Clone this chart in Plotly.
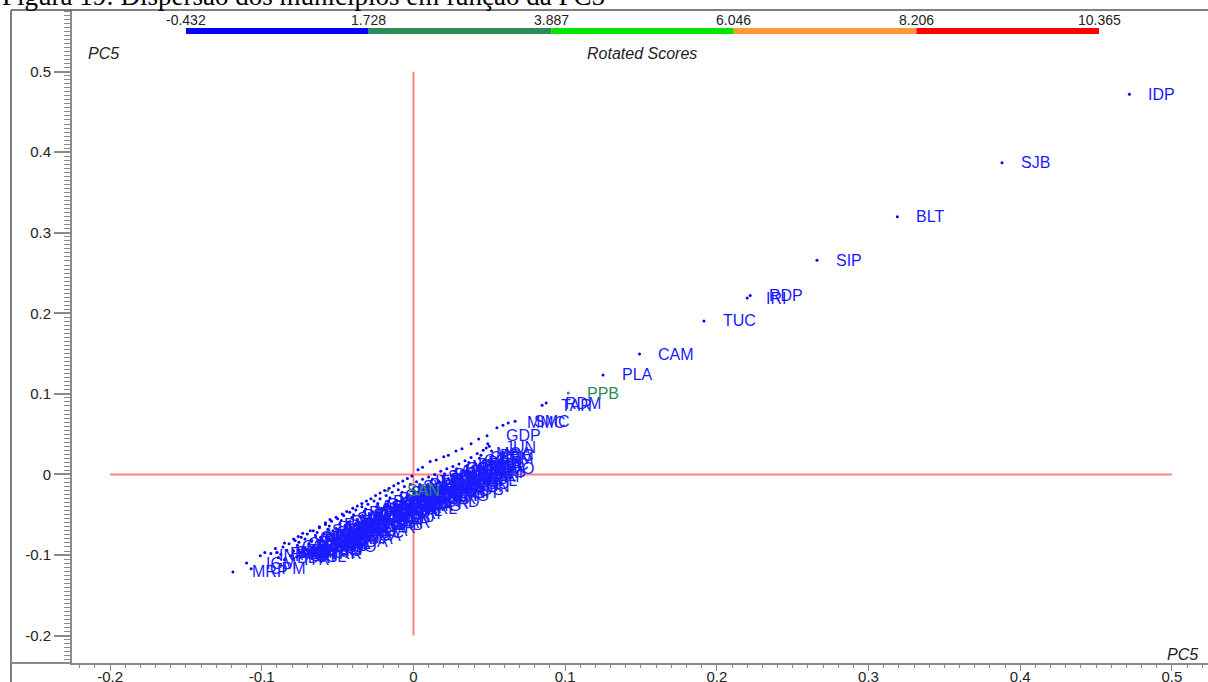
import plotly.graph_objects as go

# ---------------------------------------------------------------- data
# Labelled municipalities outside the main cloud (PC5 vs PC5 scores)
named_codes = ["IDP", "SJB", "BLT", "SIP", "IRI", "RDP", "TUC", "CAM", "PLA",
               "RDM", "TAR", "SMC", "MMC", "GDP"]
named_x = [0.472, 0.388, 0.319, 0.266, 0.220, 0.222, 0.1915, 0.149, 0.125,
           0.0875, 0.0848, 0.067, 0.0625, 0.0485]
named_y = [0.472, 0.387, 0.320, 0.266, 0.219, 0.222, 0.1905, 0.1495, 0.1235,
           0.0887, 0.086, 0.066, 0.064, 0.048]

# Labelled municipalities in the higher score class (green)
green_codes = ["PPB", "SAN"]
green_x = [0.102, -0.017]
green_y = [0.101, -0.020]

# Highest-score municipalities inside the cloud (red)
red_x = [0.000, 0.003, 0.011, 0.039]
red_y = [-0.019, -0.022, -0.025, 0.002]

# Labelled municipalities at the lower tail of the cloud
tail_codes = ["MRP", "CPM", "IGM", "INP", "PAD", "SJD"]
tail_x = [-0.119, -0.107, -0.110, -0.101, -0.094, -0.090]
tail_y = [-0.121, -0.117, -0.110, -0.101, -0.098, -0.097]

# Points along the upper edge of the cloud
edge_x = [-0.098, -0.091, -0.085, -0.079, -0.076, -0.073, -0.068, -0.062,
          -0.058, -0.055, -0.051, -0.047, -0.044, -0.040, -0.037, -0.034,
          -0.031, -0.028, -0.025, -0.022, -0.019, -0.016, -0.013, -0.010,
          -0.007, -0.004, -0.001, 0.003, 0.006, 0.011, 0.015, 0.020, 0.023,
          0.028, 0.032, 0.038, 0.043, 0.055, 0.059]
edge_y = [-0.097, -0.092, -0.085, -0.080, -0.077, -0.073, -0.070, -0.065,
          -0.060, -0.056, -0.053, -0.049, -0.046, -0.042, -0.039, -0.036,
          -0.033, -0.030, -0.026, -0.023, -0.020, -0.017, -0.014, -0.011,
          -0.008, -0.005, -0.002, 0.006, 0.009, 0.016, 0.018, 0.022, 0.024,
          0.029, 0.032, 0.038, 0.044, 0.058, 0.061]

# Dense cloud of municipalities ("" = no label drawn)
band_codes = ["VRD", "BDR",
              "CSB", "MGR", "ITR",
              "CVD", "ESP", "SFI",
              "VRC", "PTR", "APR", "SSL",
              "CRJ", "ITA", "CGM", "MCR",
              "MAC", "PDA", "ARR", "QSM", "TRR",
              "SMD", "CDM", "PBL", "BMS", "RIO",
              "ITG", "CMC", "NIT", "SBR", "SGO",
              "PMR", "MAG", "DUC", "ENG", "NIL",
              "SPA", "LVR", "QUE", "JAP", "CDA",
              "SVL", "VOL", "ITV", "RES", "BMA",
              "PIR", "MDN", "ITO", "SAL", "OCA",
              "RCL", "VAS", "MVD", "PTP", "PRC",
              "MDC", "CCR", "NFR", "TRS", "SJA",
              "ACR", "PET", "PSL", "TER", "CAR",
              "SAQ", "MRI", "ARA", "CAS", "CAB",
              "RBB", "BZS", "RDO", "SCR", "MAR",
              "PAR", "APC", "MEN", "PTI", "ITJ",
              "CBF", "ENF", "SJV", "SSA", "LAJ",
              "SJM", "TRJ", "CMB", "VAR", "PRI",
              "MNG", "TAN", "BJI", "SMA", "ITL",
              "SVR", "PTF", "CSN", "VAL", "ARL",
              "CPR", "SMM", "MDL", "PRT", "MIG",
              "ITP", "SFL", "CNT", "PSR", "SFR",
              "LMA", "ALD", "RBR", "CRM", "CRD",
              "SRL", "TGA", "CMT", "DMG", "ITX",
              "PQE", "BJL", "RCH", "STA", "LAG",
              "APE", "SDM", "CNV", "MGO", "PNH",
              "CSA", "GUA", "SJU", "DVA", "ROS",
              "MTA", "PLN", "NOV", "PAT", "SGN",
              "BRL", "CTG", "FRM", "SFB", "IGU",
              "CGT", "NMR", "SEA", "RSL", "RFL",
              "CLB", "BRR", "VER", "PTM", "CAP",
              "MCA", "SRM", "ARC", "OVO",
              "", "PDC", "", "JUN",
              "", "", ""]
band_x = [-0.090, -0.089,
          -0.086, -0.0875, -0.085,
          -0.082, -0.0835, -0.081,
          -0.078, -0.0765, -0.079, -0.077,
          -0.074, -0.0755, -0.073, -0.0745,
          -0.070, -0.0715, -0.069, -0.0705, -0.068,
          -0.066, -0.0645, -0.067, -0.0655, -0.065,
          -0.062, -0.0635, -0.061, -0.0625, -0.060,
          -0.058, -0.0565, -0.059, -0.0575, -0.057,
          -0.054, -0.0555, -0.053, -0.0545, -0.052,
          -0.050, -0.0485, -0.051, -0.0495, -0.049,
          -0.046, -0.0475, -0.045, -0.0465, -0.044,
          -0.042, -0.0405, -0.043, -0.0415, -0.041,
          -0.038, -0.0395, -0.037, -0.0385, -0.036,
          -0.034, -0.0325, -0.035, -0.0335, -0.033,
          -0.030, -0.0315, -0.029, -0.0305, -0.028,
          -0.026, -0.0245, -0.027, -0.0255, -0.025,
          -0.022, -0.0235, -0.021, -0.0225, -0.020,
          -0.018, -0.0165, -0.019, -0.0175, -0.017,
          -0.014, -0.0155, -0.013, -0.0145, -0.012,
          -0.010, -0.0085, -0.011, -0.0095, -0.009,
          -0.006, -0.0075, -0.005, -0.0065, -0.004,
          -0.002, -0.0005, -0.003, -0.0015, -0.001,
          0.002, 0.0035, 0.001, 0.0025, 0.003,
          0.006, 0.0045, 0.007, 0.0055, 0.008,
          0.010, 0.0115, 0.009, 0.0105, 0.012,
          0.014, 0.0125, 0.015, 0.0135, 0.016,
          0.018, 0.0195, 0.017, 0.0185, 0.020,
          0.022, 0.0205, 0.023, 0.0215, 0.024,
          0.026, 0.0275, 0.025, 0.0265, 0.028,
          0.030, 0.0285, 0.031, 0.0295, 0.032,
          0.034, 0.0355, 0.033, 0.0345, 0.036,
          0.038, 0.0365, 0.039, 0.0375, 0.040,
          0.042, 0.0435, 0.041, 0.044,
          0.046, 0.0445, 0.047, 0.048,
          0.050, 0.0515, 0.049]
band_y = [-0.097, -0.103,
          -0.090, -0.099, -0.106,
          -0.086, -0.094, -0.101,
          -0.082, -0.088, -0.095, -0.102,
          -0.078, -0.084, -0.090, -0.097,
          -0.074, -0.080, -0.086, -0.093, -0.098,
          -0.070, -0.076, -0.082, -0.088, -0.094,
          -0.066, -0.072, -0.078, -0.084, -0.090,
          -0.062, -0.068, -0.074, -0.079, -0.086,
          -0.058, -0.064, -0.070, -0.076, -0.083,
          -0.055, -0.061, -0.067, -0.072, -0.079,
          -0.051, -0.057, -0.063, -0.069, -0.076,
          -0.047, -0.053, -0.059, -0.065, -0.072,
          -0.044, -0.050, -0.056, -0.062, -0.069,
          -0.040, -0.046, -0.052, -0.058, -0.066,
          -0.037, -0.043, -0.049, -0.055, -0.062,
          -0.033, -0.040, -0.046, -0.052, -0.059,
          -0.030, -0.036, -0.042, -0.048, -0.055,
          -0.026, -0.033, -0.039, -0.045, -0.052,
          -0.022, -0.029, -0.035, -0.041, -0.049,
          -0.019, -0.026, -0.032, -0.038, -0.045,
          -0.015, -0.022, -0.029, -0.035, -0.042,
          -0.012, -0.019, -0.025, -0.032, -0.039,
          -0.009, -0.016, -0.022, -0.029, -0.036,
          -0.006, -0.013, -0.019, -0.026, -0.033,
          -0.003, -0.009, -0.016, -0.022, -0.030,
          0.000, -0.006, -0.012, -0.019, -0.026,
          0.004, -0.003, -0.009, -0.015, -0.022,
          0.007, 0.001, -0.005, -0.012, -0.019,
          0.010, 0.004, -0.002, -0.008, -0.015,
          0.013, 0.007, 0.001, -0.005, -0.011,
          0.017, 0.011, 0.005, -0.001, -0.007,
          0.021, 0.015, 0.009, 0.003, -0.003,
          0.026, 0.020, 0.013, 0.007,
          0.030, 0.024, 0.018, 0.033,
          0.035, 0.029, 0.038]

# Rotated-score class limits shown in the colour key
score_breaks = [-0.432, 1.728, 3.887, 6.046, 8.206, 10.365]
score_colors = ["#0000ff", "#2e8b57", "#00e600", "#ff9933", "#ff0000"]

tick_vals = [-0.2, -0.1, 0.0, 0.1, 0.2, 0.3, 0.4, 0.5]
tick_text = ["-0.2", "-0.1", "0", "0.1", "0.2", "0.3", "0.4", "0.5"]

# ---------------------------------------------------------------- layout
W, H = 1208, 682
PL, PR, PT, PB = 72, 1208, 10, 663   # plot area in pixels


def xp(px):
    return (px - PL) / (PR - PL)


def yp(py):
    return (PB - py) / (PB - PT)


BLUE = "#0000ff"
LABEL_BLUE = "#1a1aff"
GREEN = "#2e8b57"
RED = "#ff0000"
AXIS_GRAY = "#8a8a8a"
FONT = "Arial, Liberation Sans, sans-serif"

fig = go.Figure()

dot = dict(size=3, line=dict(width=0))
fig.add_trace(go.Scatter(x=band_x, y=band_y, mode="markers", text=band_codes,
                         marker=dict(color=BLUE, **dot)))
fig.add_trace(go.Scatter(x=edge_x, y=edge_y, mode="markers",
                         marker=dict(color=BLUE, **dot), hoverinfo="skip"))
fig.add_trace(go.Scatter(x=tail_x, y=tail_y, mode="markers",
                         marker=dict(color=BLUE, **dot), text=tail_codes))
fig.add_trace(go.Scatter(x=named_x, y=named_y, mode="markers",
                         marker=dict(color=BLUE, **dot), text=named_codes))
fig.add_trace(go.Scatter(x=red_x, y=red_y, mode="markers",
                         marker=dict(color=RED, **dot)))
fig.add_trace(go.Scatter(x=green_x, y=green_y, mode="markers",
                         marker=dict(color=GREEN, **dot), text=green_codes))

annotations = []


def point_labels(codes, xs, ys, color):
    for c, x, y in zip(codes, xs, ys):
        if not c:
            continue
        annotations.append(dict(x=x, y=y, xref="x", yref="y", text=c,
                                showarrow=False, xanchor="left",
                                yanchor="middle", xshift=17,
                                font=dict(family=FONT, size=16, color=color)))


point_labels(band_codes, band_x, band_y, LABEL_BLUE)
point_labels(tail_codes, tail_x, tail_y, LABEL_BLUE)
point_labels(named_codes, named_x, named_y, LABEL_BLUE)
point_labels(green_codes, green_x, green_y, GREEN)

# figure caption, partly cut by the page top
annotations.append(dict(x=xp(0), y=yp(-4), xref="paper", yref="paper",
                        text="Figura 19: Dispersão dos municípios em função da PC5",
                        showarrow=False, xanchor="left", yanchor="middle",
                        font=dict(family="Liberation Serif, Times New Roman, serif",
                                  size=27, color="black")))

italic = dict(family=FONT, size=16, color="#222222")
for px_x, px_y, txt in [(103, 53, "PC5"), (642, 53, "Rotated Scores"),
                        (1182, 654, "PC5")]:
    annotations.append(dict(x=xp(px_x), y=yp(px_y), xref="paper", yref="paper",
                            text=f"<i>{txt}</i>", showarrow=False,
                            xanchor="center", yanchor="middle", font=italic))

shapes = []

# reference cross through the origin
line_red = dict(color="#ff8080", width=2)
shapes.append(dict(type="line", xref="x", yref="y", x0=tick_vals[0], x1=tick_vals[-1],
                   y0=0, y1=0, line=line_red, layer="below"))
shapes.append(dict(type="line", xref="x", yref="y", x0=0, x1=0,
                   y0=tick_vals[0], y1=tick_vals[-1], line=line_red, layer="below"))

# colour key of the rotated scores
KEY_L, KEY_R, KEY_T, KEY_B = 186, 1099, 28, 34


def key_px(v):
    return KEY_L + (v - score_breaks[0]) / (score_breaks[-1] - score_breaks[0]) * (KEY_R - KEY_L)


for i, col in enumerate(score_colors):
    shapes.append(dict(type="rect", xref="paper", yref="paper",
                       x0=xp(key_px(score_breaks[i])), x1=xp(key_px(score_breaks[i + 1])),
                       y0=yp(KEY_B), y1=yp(KEY_T), fillcolor=col,
                       line=dict(width=0)))
for v in score_breaks:
    annotations.append(dict(x=xp(key_px(v)), y=yp(19.5), xref="paper", yref="paper",
                            text=f"{v:.3f}", showarrow=False,
                            xanchor="center", yanchor="middle",
                            font=dict(family=FONT, size=14, color="#222222")))

# outer frame and the extension of the x axis line to it
frame = dict(color="#555555", width=1.5)
shapes.append(dict(type="line", xref="paper", yref="paper", x0=xp(11), x1=xp(11),
                   y0=yp(10), y1=yp(H + 5), line=frame))
shapes.append(dict(type="line", xref="paper", yref="paper", x0=xp(11), x1=xp(W),
                   y0=yp(10), y1=yp(10), line=frame))
shapes.append(dict(type="line", xref="paper", yref="paper", x0=xp(11), x1=xp(PL),
                   y0=yp(PB), y1=yp(PB), line=dict(color=AXIS_GRAY, width=2)))

tickfont = dict(family=FONT, size=15, color="#222222")

fig.update_layout(
    width=W, height=H,
    margin=dict(l=PL, r=W - PR, t=PT, b=H - PB, autoexpand=False),
    paper_bgcolor="white", plot_bgcolor="white",
    showlegend=False,
    annotations=annotations,
    shapes=shapes,
    xaxis=dict(range=[-0.2251, 0.5238], tickvals=tick_vals, ticktext=tick_text,
               automargin=False, ticklabelstandoff=-7,
               showgrid=False, zeroline=False, showline=True,
               linecolor=AXIS_GRAY, linewidth=2,
               ticks="outside", ticklen=6, tickwidth=1, tickcolor=AXIS_GRAY,
               tickfont=tickfont,
               minor=dict(dtick=0.01, ticks="outside", ticklen=3, tickwidth=1,
                          tickcolor=AXIS_GRAY, showgrid=False)),
    yaxis=dict(range=[-0.234, 0.5765], tickvals=tick_vals, ticktext=tick_text,
               automargin=False,
               showgrid=False, zeroline=False, showline=True,
               linecolor=AXIS_GRAY, linewidth=2,
               ticks="outside", ticklen=16, tickwidth=1.5, tickcolor=AXIS_GRAY,
               tickfont=tickfont,
               minor=dict(dtick=0.005, ticks="outside", ticklen=6, tickwidth=1,
                          tickcolor=AXIS_GRAY, showgrid=False)),
)

fig.write_html("out.html")
